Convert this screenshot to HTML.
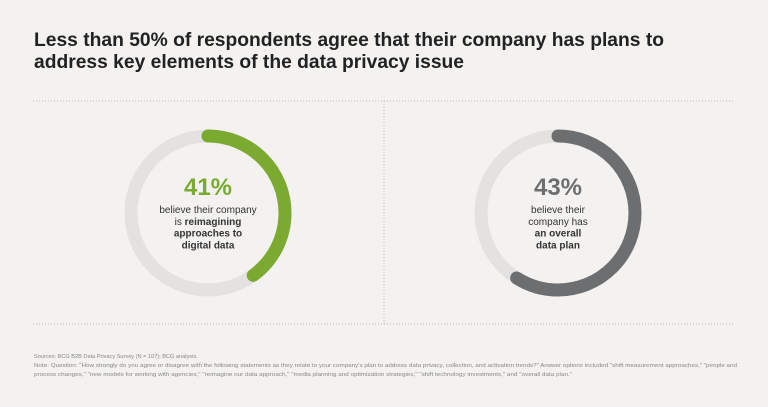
<!DOCTYPE html>
<html><head><meta charset="utf-8"><style>
html,body{margin:0;padding:0;background:#f3f2f0;}
body{width:768px;height:402px;overflow:hidden;font-family:"Liberation Sans",sans-serif;}
</style></head><body>
<svg width="768" height="402" viewBox="0 0 768 402">
<rect width="768" height="402" fill="#f3f2f0"/>
<g font-weight="bold" font-size="19" fill="#222">
<text x="34" y="46" textLength="630" lengthAdjust="spacingAndGlyphs">Less than 50% of respondents agree that their company has plans to</text>
<text x="34" y="68" textLength="430" lengthAdjust="spacingAndGlyphs">address key elements of the data privacy issue</text>
</g>
<g stroke="#bbb" stroke-width="1" stroke-dasharray="1 2">
<line x1="33" y1="101" x2="735" y2="101"/>
<line x1="33" y1="324" x2="735" y2="324"/>
<line x1="384" y1="101" x2="384" y2="324"/>
</g>
<g id="rings"></g>
<g font-size="5.6" fill="#888">
<text x="34" y="358">Sources: BCG B2B Data Privacy Survey (N = 107); BCG analysis.</text>
<text x="34" y="367" textLength="703" lengthAdjust="spacingAndGlyphs">Note: Question: "How strongly do you agree or disagree with the following statements as they relate to your company's plan to address data privacy, collection, and activation trends?" Answer options included "shift measurement approaches," "people and</text>
<text x="34" y="376" textLength="538" lengthAdjust="spacingAndGlyphs">process changes," "new models for working with agencies," "reimagine our data approach," "media planning and optimization strategies," "shift technology investments," and "overall data plan."</text>
</g>
</svg>
<script>
const categories = ['reimagining', 'overall-plan'];
// arc extent as drawn in the picture (percent of full circle)
const values = [40, 59];
const labels = ['41%', '43%'];
const colors = ['#7aaa2f', '#6d6e70'];
const texts = [
  [['believe their company',''],['is ','reimagining'],['','approaches to'],['','digital data']],
  [['believe their',''],['company has',''],['','an overall'],['','data plan']]
];
const NS = 'http://www.w3.org/2000/svg';
const g = document.getElementById('rings');
const cx = [208, 558], cy = 213, r = 77, sw = 13;
const C = 2 * Math.PI * r;
function arcLen(v){ return C * v / 100; }
values.forEach((v, i) => {
  const bg = document.createElementNS(NS, 'circle');
  
  
  bg.setAttribute('cx', cx[i]); bg.setAttribute('cy', cy); bg.setAttribute('r', r);
  bg.setAttribute('fill', 'none'); bg.setAttribute('stroke', '#e3e2e0'); bg.setAttribute('stroke-width', sw);
  g.appendChild(bg);
  const arc = document.createElementNS(NS, 'circle');
  
  
  arc.setAttribute('cx', cx[i]); arc.setAttribute('cy', cy); arc.setAttribute('r', r);
  arc.setAttribute('fill', 'none'); arc.setAttribute('stroke', colors[i]); arc.setAttribute('stroke-width', sw);
  arc.setAttribute('stroke-linecap', 'round');
  arc.setAttribute('stroke-dasharray', arcLen(v) + ' ' + C);
  arc.setAttribute('transform', 'rotate(-90 ' + cx[i] + ' ' + cy + ')');
  g.appendChild(arc);
  const t = document.createElementNS(NS, 'text');
  
  
  t.setAttribute('x', cx[i]); t.setAttribute('y', 195);
  t.setAttribute('text-anchor', 'middle'); t.setAttribute('font-weight', 'bold');
  t.setAttribute('font-size', '24'); t.setAttribute('fill', colors[i]);
  t.textContent = labels[i];
  g.appendChild(t);
  texts[i].forEach((ln, j) => {
    const d = document.createElementNS(NS, 'text');
    
    
    d.setAttribute('x', cx[i]); d.setAttribute('y', 213 + j * 11.8);
    d.setAttribute('text-anchor', 'middle'); d.setAttribute('font-size', '10'); d.setAttribute('fill', '#333');
    if (ln[0]) { const s = document.createElementNS(NS, 'tspan'); s.textContent = ln[0]; d.appendChild(s); }
    if (ln[1]) { const s = document.createElementNS(NS, 'tspan'); s.setAttribute('font-weight', 'bold'); s.textContent = ln[1]; d.appendChild(s); }
    g.appendChild(d);
  });
});
</script>
</body></html>
